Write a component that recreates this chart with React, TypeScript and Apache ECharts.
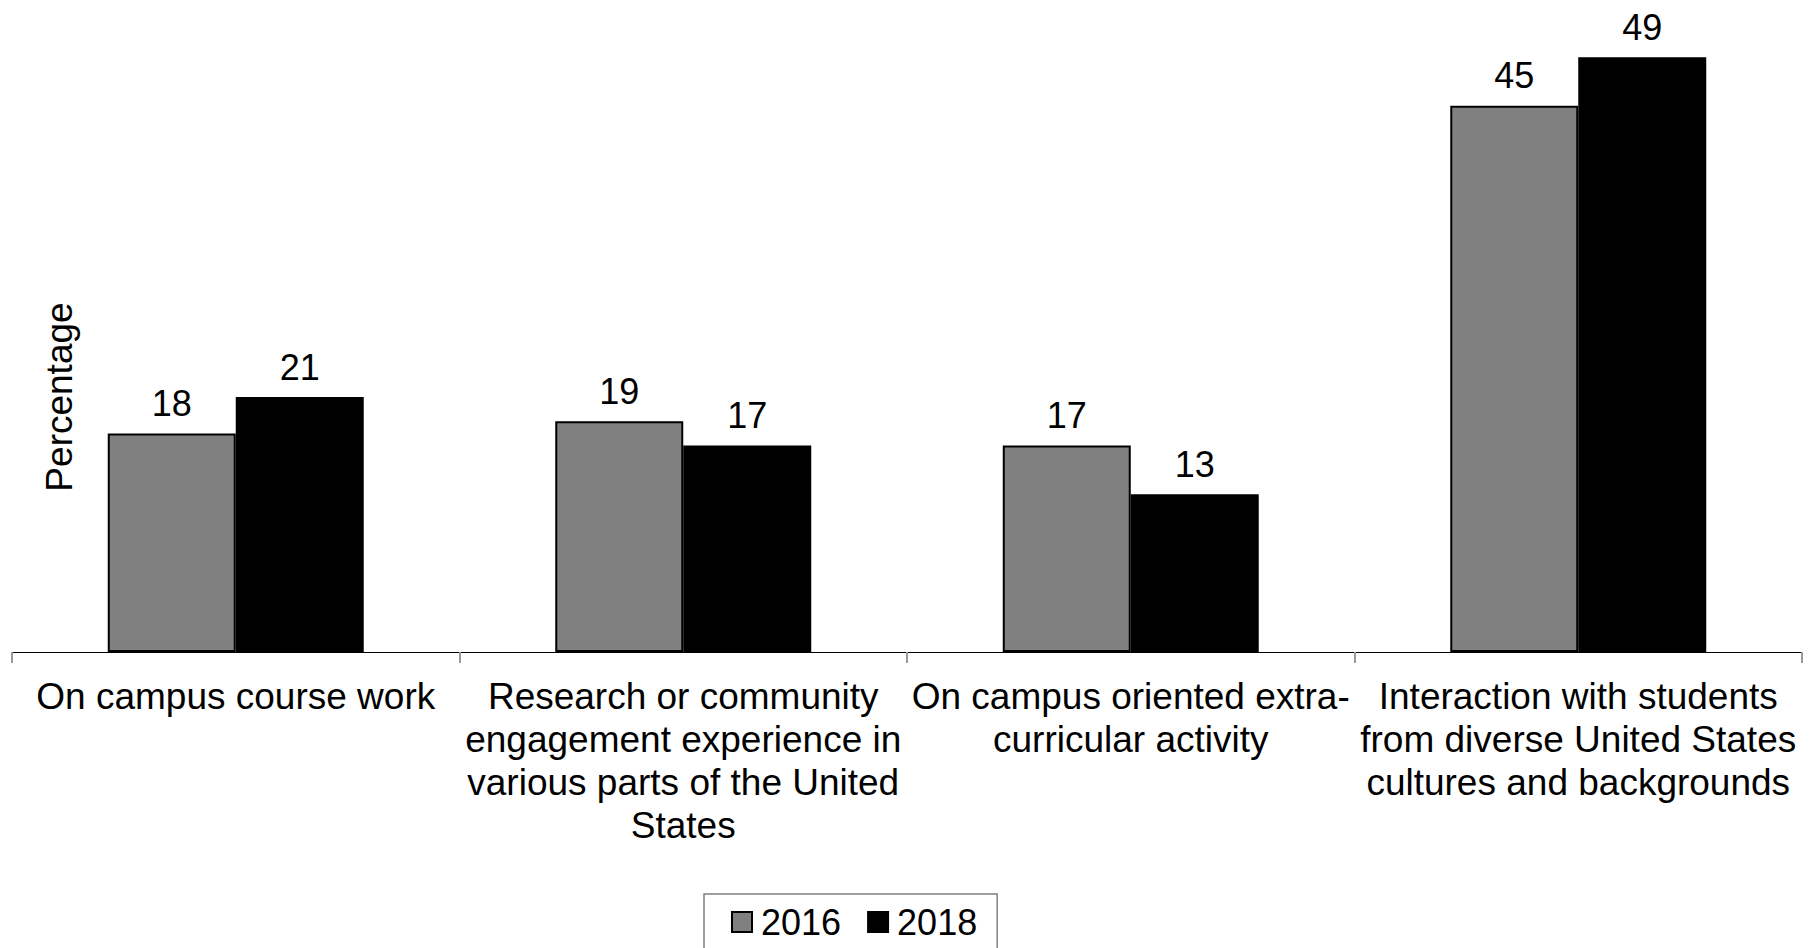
import React, { useEffect, useRef } from "react";
import * as echarts from "echarts";

const categories: string[] = [
  "On campus course work",
  "Research or community\nengagement experience in\nvarious parts of the United\nStates",
  "On campus oriented extra-\ncurricular activity",
  "Interaction with students\nfrom diverse United States\ncultures and backgrounds",
];
const seriesNames: string[] = ["2016", "2018"];
const values2016: number[] = [18, 19, 17, 45];
const values2018: number[] = [21, 17, 13, 49];
const yAxisTitle = "Percentage";

const FONT = "Arial, 'Liberation Sans', Helvetica, sans-serif";

export default function App() {
  const ref = useRef<HTMLDivElement>(null);

  useEffect(() => {
    if (!ref.current) return;
    const chart = echarts.init(ref.current, undefined, { renderer: "svg" });
    const labelCfg = {
      show: true,
      position: "top" as const,
      distance: 12,
      color: "#000",
      fontSize: 36,
      lineHeight: 36,
      fontFamily: FONT,
    };
    chart.setOption({
      animation: false,
      backgroundColor: "#ffffff",
      textStyle: { fontFamily: FONT },
      grid: { left: 12, right: 18, top: 45, bottom: 296, containLabel: false },
      xAxis: {
        type: "category",
        data: categories,
        boundaryGap: true,
        axisLine: { show: true, lineStyle: { color: "#000", width: 1.2 } },
        axisTick: { show: true, length: 11, lineStyle: { color: "#999", width: 2 } },
        axisLabel: {
          interval: 0,
          margin: 23,
          color: "#000",
          fontSize: 37,
          lineHeight: 43,
          fontFamily: FONT,
          align: "center",
        },
        splitLine: { show: false },
      },
      yAxis: {
        type: "value",
        min: 0,
        max: 50,
        show: false,
        splitLine: { show: false },
      },
      legend: {
        data: seriesNames,
        left: 704,
        top: 894,
        orient: "horizontal",
        icon: "rect",
        itemWidth: 20,
        itemHeight: 20,
        itemGap: 26,
        padding: [10, 20, 14, 27],
        borderColor: "#808080",
        borderWidth: 1.5,
        textStyle: {
          fontSize: 36,
          lineHeight: 36,
          color: "#000",
          fontFamily: FONT,
          padding: [0, 0, 0, 4],
        },
      },
      graphic: [
        {
          type: "text",
          x: 59,
          y: 397,
          rotation: Math.PI / 2,
          style: {
            text: yAxisTitle,
            fontSize: 37,
            fontFamily: FONT,
            fill: "#000",
            align: "center",
            verticalAlign: "middle",
          },
        },
      ],
      series: [
        {
          name: seriesNames[0],
          type: "bar",
          data: values2016,
          barGap: "0%",
          barCategoryGap: "42.8%",
          itemStyle: { color: "#808080", borderColor: "#000", borderWidth: 2 },
          label: labelCfg,
        },
        {
          name: seriesNames[1],
          type: "bar",
          data: values2018,
          barGap: "0%",
          barCategoryGap: "42.8%",
          itemStyle: { color: "#000", borderColor: "#000", borderWidth: 2 },
          label: labelCfg,
        },
      ],
    });
    return () => chart.dispose();
  }, []);

  return (
    <div
      ref={ref}
      style={{ position: "absolute", left: 0, top: 0, width: 1820, height: 948, background: "#fff" }}
    />
  );
}
